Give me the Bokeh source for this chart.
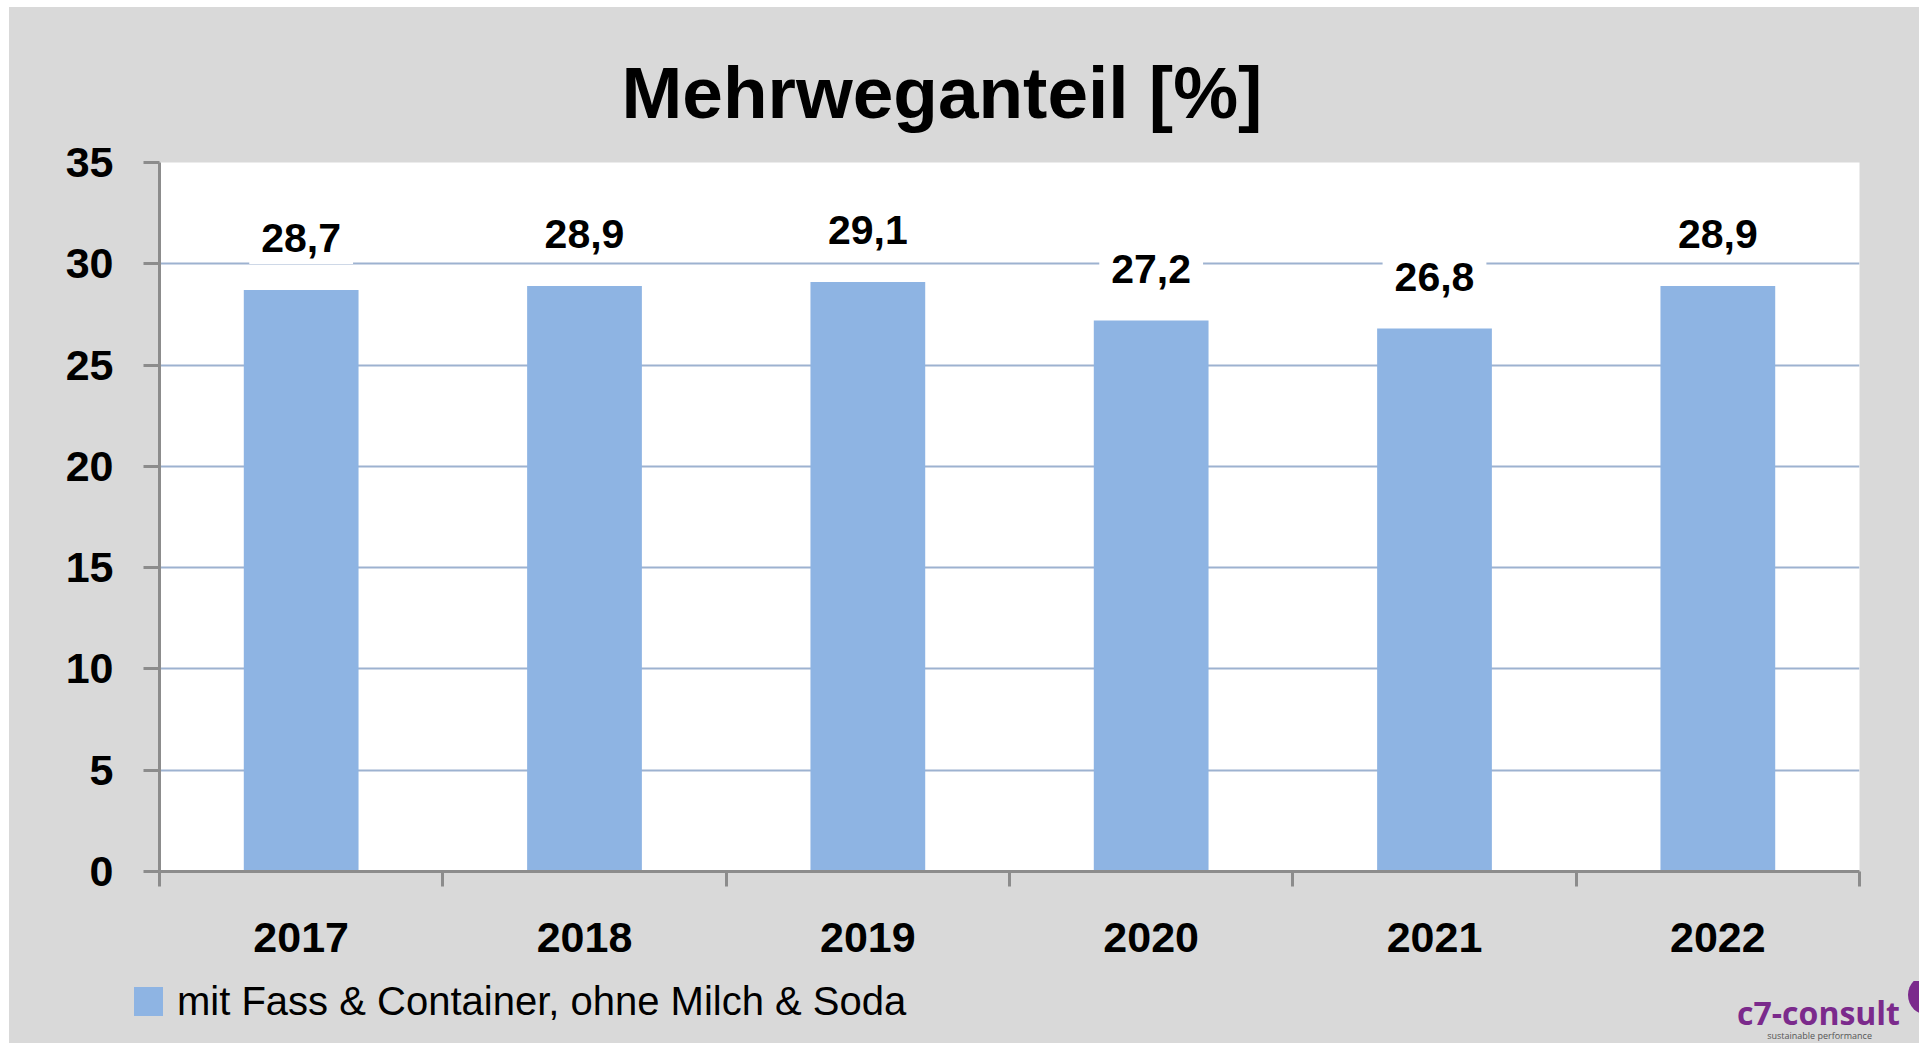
from bokeh.plotting import figure
from bokeh.layouts import column
from bokeh.models import Range1d, FixedTicker, Label, Div
from bokeh.embed import file_html
from bokeh.resources import INLINE

# ---- data ----
years = ["2017", "2018", "2019", "2020", "2021", "2022"]
values = [28.7, 28.9, 29.1, 27.2, 26.8, 28.9]
y_ticks = [0, 5, 10, 15, 20, 25, 30, 35]
series_name = "mit Fass &amp; Container, ohne Milch &amp; Soda"
title_text = "Mehrweganteil [%]"
logo_text = "c7-consult"
logo_tagline = "sustainable performance"

FONT = "Liberation Sans"
GRAY_AXIS = "#8C8C8C"
BAR = "#8EB4E3"
GRID = "#9DB2D0"
BG = "#D9D9D9"
PURPLE = "#7B2A8C"

xs = [i + 0.5 for i in range(len(years))]

# ---------------- main chart ----------------
p = figure(width=1910, height=969,
           x_range=Range1d(0, len(years)), y_range=Range1d(0, 35),
           output_backend="svg", toolbar_location=None,
           min_border_left=150, min_border_right=60,
           min_border_top=155, min_border_bottom=105,
           background_fill_color="white", border_fill_color=BG,
           outline_line_color=None)

r = p.vbar(x=xs, top=values, width=0.405, color=BAR, line_color=None)

# title
p.title.text = title_text
p.title.align = "left"
p.title.offset = 462
p.title.standoff = 60
p.title.text_font = FONT
p.title.text_font_style = "bold"
p.title.text_font_size = "73px"
p.title.text_color = "black"

# grid
p.xgrid.visible = False
p.ygrid.ticker = FixedTicker(ticks=y_ticks)
p.ygrid.grid_line_color = GRID
p.ygrid.grid_line_width = 2

# y axis
ya = p.yaxis[0]
ya.ticker = FixedTicker(ticks=y_ticks)
ya.axis_line_color = GRAY_AXIS
ya.axis_line_width = 3
ya.major_tick_line_color = GRAY_AXIS
ya.major_tick_line_width = 3
ya.major_tick_out = 16
ya.major_tick_in = 0
ya.minor_tick_line_color = None
ya.major_label_standoff = 30
ya.major_label_text_font = FONT
ya.major_label_text_font_style = "bold"
ya.major_label_text_font_size = "43px"
ya.major_label_text_color = "black"

# x axis: labels at category centers, ticks at category boundaries
xa = p.xaxis[0]
xa.ticker = FixedTicker(ticks=xs, minor_ticks=list(range(len(years) + 1)))
xa.major_label_overrides = {x: y for x, y in zip(xs, years)}
xa.axis_line_color = GRAY_AXIS
xa.axis_line_width = 3
xa.major_tick_line_color = None
xa.major_tick_out = 0
xa.major_tick_in = 0
xa.minor_tick_line_color = GRAY_AXIS
xa.minor_tick_line_width = 3
xa.minor_tick_out = 15
xa.minor_tick_in = 0
xa.major_label_standoff = 36
xa.major_label_text_font = FONT
xa.major_label_text_font_style = "bold"
xa.major_label_text_font_size = "43px"
xa.major_label_text_color = "black"

# data labels
for x, v in zip(xs, values):
    p.add_layout(Label(x=x, y=v, y_offset=52,
                       text=f"{v:.1f}".replace(".", ","),
                       text_align="center", text_baseline="middle",
                       text_font=FONT, text_font_style="bold",
                       text_font_size="41px", text_color="black",
                       background_fill_color="white", padding=12))

# ---------------- bottom strip: legend + logo ----------------
strip_html = f"""
<div style="position:relative;width:1910px;height:66px;overflow:hidden;background:{BG};margin:0;padding:0;">
  <div style="position:absolute;left:120px;top:6px;width:29px;height:29px;background:{BAR};"></div>
  <div style="position:absolute;left:163px;top:0px;font-family:'{FONT}';font-size:40px;line-height:40px;color:black;white-space:nowrap;">{series_name}</div>
  <div style="position:absolute;right:24px;top:16px;font-family:'Open Sans';font-weight:bold;font-size:32px;line-height:32px;color:{PURPLE};white-space:nowrap;">{logo_text}</div>
  <div style="position:absolute;right:52px;top:50px;font-family:'Open Sans';font-size:9px;line-height:9px;color:#555555;white-space:nowrap;">{logo_tagline}</div>
  <div style="position:absolute;left:1894px;top:-6px;width:40px;height:40px;border-radius:50%;background:{PURPLE};"></div>
</div>
"""
strip = Div(text=strip_html, width=1910, height=66)

layout = column(p, strip, spacing=0)
layout.margin = (7, 0, 0, 9)
layout.styles = {"background-color": BG}
open("out.html", "w").write(file_html(layout, INLINE))
